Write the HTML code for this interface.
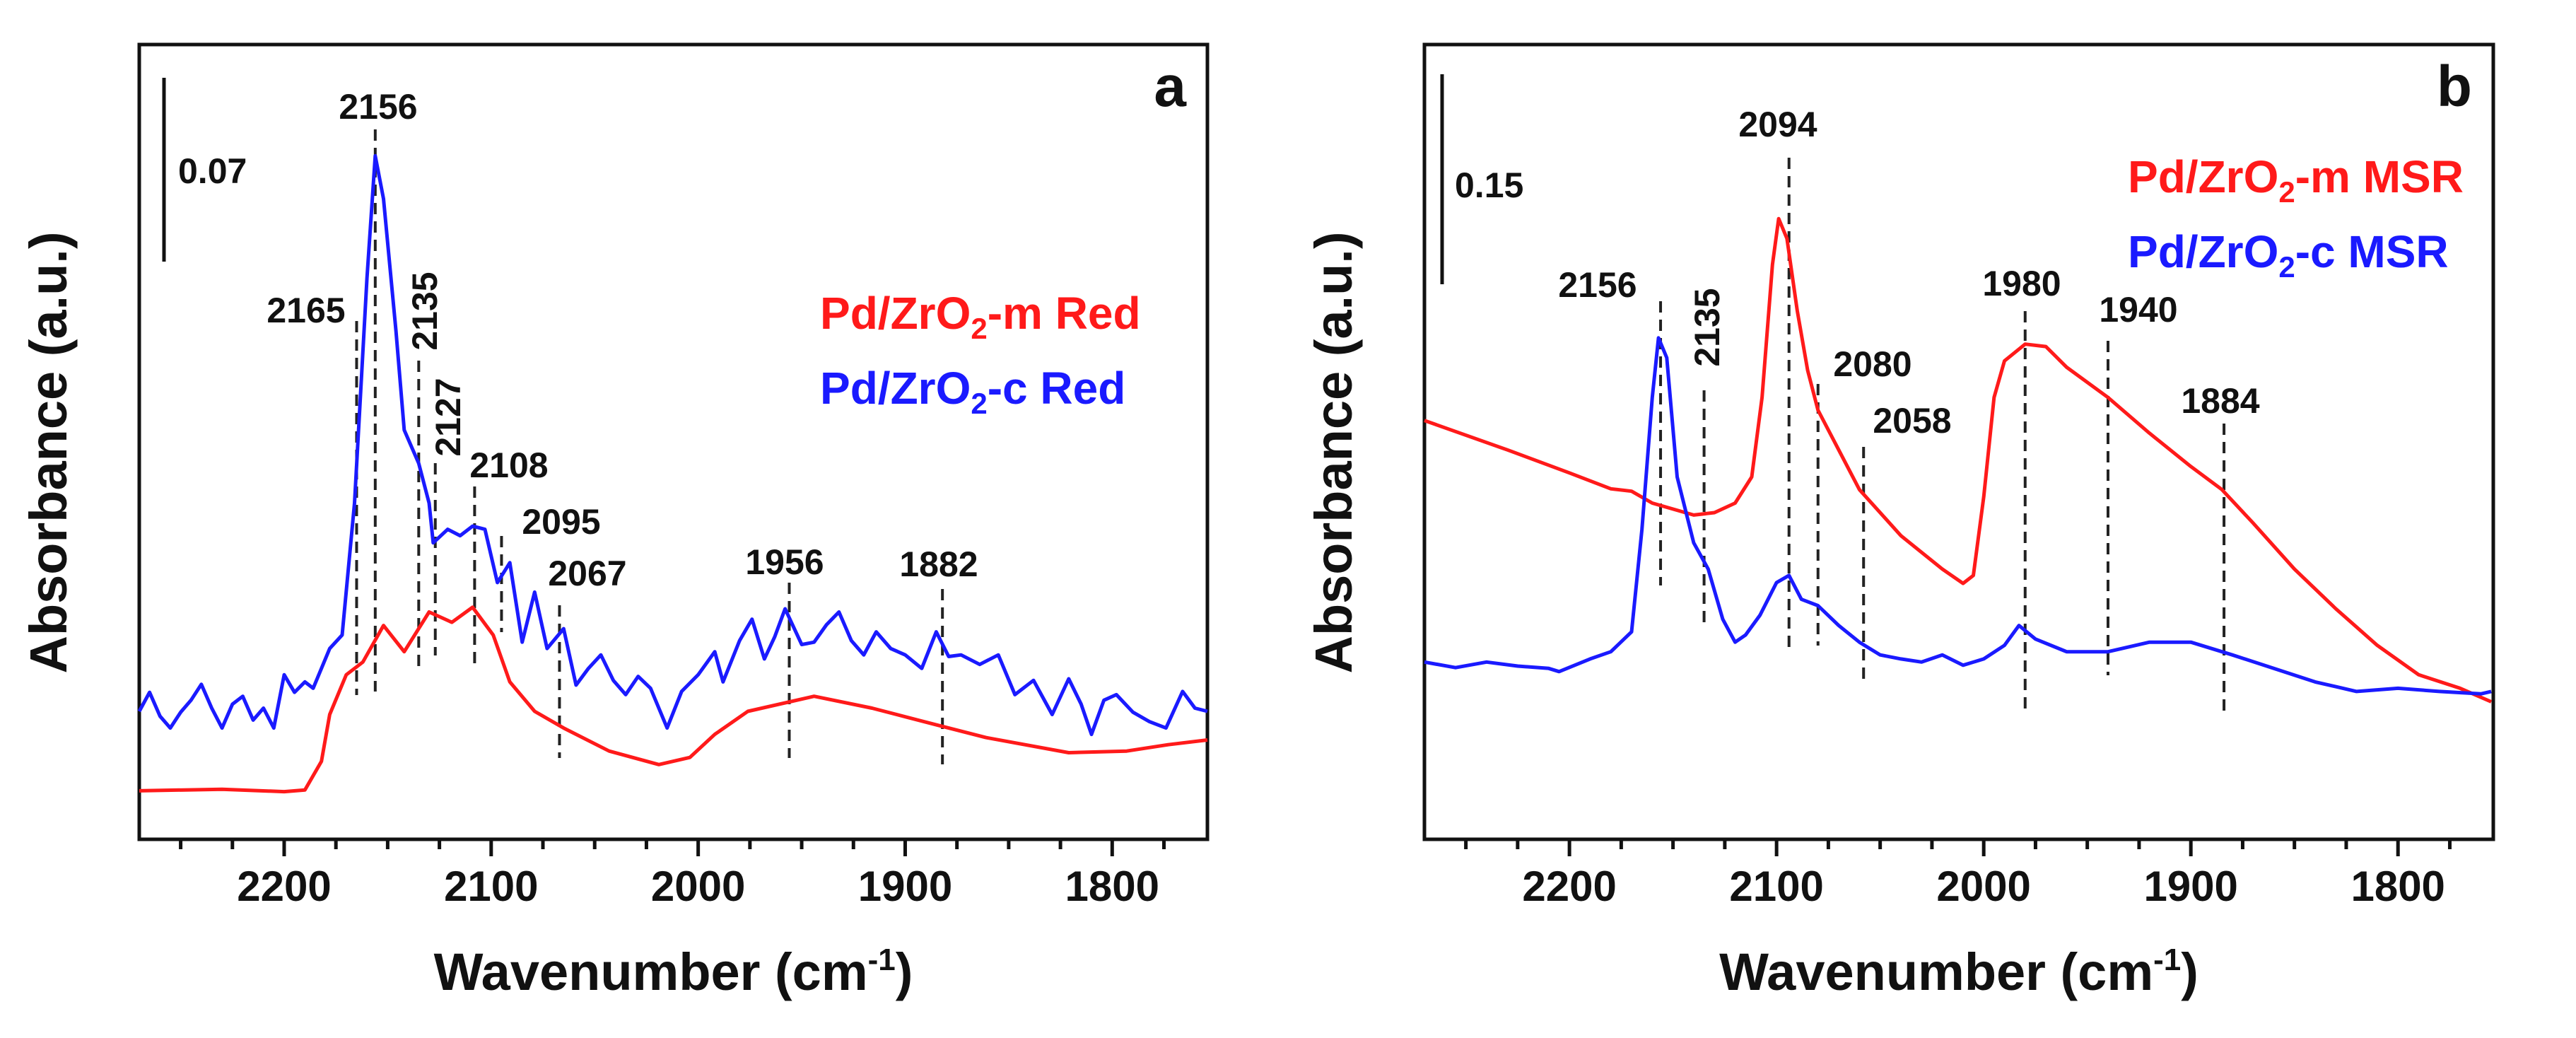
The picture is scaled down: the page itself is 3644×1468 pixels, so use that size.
<!DOCTYPE html>
<html><head><meta charset="utf-8"><style>
body{margin:0;background:#fff}
svg{display:block}
text{font-family:"Liberation Sans",Arial,sans-serif;font-weight:bold}
</style></head><body>
<svg id="fig" width="3644" height="1468" viewBox="0 0 3644 1468" xmlns="http://www.w3.org/2000/svg"></svg>
<script>
// ---- data ----
const xTicks=[2200,2100,2000,1900,1800];
const aRedX=[2270,2230,2200,2190,2182,2178,2170,2162,2152,2142,2130,2119,2109,2099,2091,2079,2065,2043,2019,2004,1992,1976,1944,1916,1885,1861,1821,1793,1773,1754];
const aRedY=[6.1,6.3,6.0,6.2,9.8,15.7,20.7,22.3,26.9,23.6,28.6,27.3,29.2,25.7,19.8,16.1,14.0,11.1,9.4,10.3,13.2,16.1,18.0,16.5,14.4,12.8,10.9,11.1,11.9,12.5];
const aBlueX=[2270,2265,2260,2255,2250,2245,2240,2235,2230,2225,2220,2215,2210,2205,2200,2195,2190,2186,2178,2172,2166,2160,2156,2152,2146,2142,2135,2130,2128,2121,2115,2109,2103,2097,2091,2085,2079,2073,2065,2059,2053,2047,2041,2035,2029,2023,2015,2008,2000,1992,1988,1980,1974,1968,1963,1958,1950,1944,1938,1932,1926,1920,1914,1907,1900,1892,1885,1879,1873,1864,1855,1847,1838,1829,1821,1815,1810,1804,1798,1790,1782,1774,1766,1760,1754];
const aBlueY=[16.1,18.5,15.5,14.0,16.0,17.5,19.5,16.5,14.0,17.0,18.0,15.0,16.5,14.0,20.7,18.5,19.8,19.0,24.0,25.7,42.3,70.6,86.0,80.6,64.0,51.5,47.3,42.3,37.3,39.0,38.2,39.4,39.0,32.3,34.8,24.8,31.1,24.0,26.5,19.4,21.5,23.2,20.0,18.2,20.5,19.0,14.0,18.6,20.7,23.6,19.8,25.0,27.7,22.7,25.5,29.0,24.5,24.8,27.0,28.6,25.0,23.2,26.1,24.0,23.2,21.5,26.1,23.0,23.2,22.0,23.2,18.2,20.0,15.7,20.2,17.0,13.2,17.5,18.2,16.0,14.8,14.0,18.6,16.5,16.1];
const bRedX=[2270,2230,2200,2180,2170,2160,2140,2130,2120,2112,2107,2102,2099,2095,2090,2085,2080,2070,2060,2040,2020,2010,2005,2000,1995,1990,1980,1970,1960,1940,1920,1900,1885,1870,1850,1830,1810,1790,1770,1755];
const bRedY=[52.7,49.0,46.1,44.1,43.8,42.3,40.8,41.1,42.3,45.6,55.6,72.3,78.1,75.6,66.5,59.0,54.0,49.0,44.0,38.2,34.0,32.2,33.2,43.1,55.6,60.2,62.3,62.0,59.4,55.6,51.1,46.9,44.0,39.8,34.0,29.0,24.4,20.7,19.0,17.3];
const bBlueX=[2270,2255,2240,2225,2210,2205,2190,2180,2170,2165,2160,2157,2153,2148,2140,2133,2126,2120,2115,2108,2100,2094,2088,2080,2070,2060,2050,2040,2030,2020,2010,2000,1990,1983,1975,1960,1940,1920,1900,1880,1860,1840,1820,1800,1780,1760,1755];
const bBlueY=[22.3,21.6,22.3,21.8,21.5,21.1,22.7,23.6,26.1,39.0,55.6,63.1,60.6,45.6,37.3,34.0,27.7,24.8,25.7,28.2,32.3,33.2,30.2,29.4,26.9,24.8,23.2,22.7,22.3,23.2,21.9,22.7,24.4,26.9,25.2,23.6,23.6,24.8,24.8,23.2,21.5,19.8,18.6,19.0,18.6,18.3,18.6];
const aMarks=[2165,2156,2135,2127,2108,2095,2067,1956,1882];
const bMarks=[2156,2135,2094,2080,2058,1980,1940,1884];
// ---- layout ----
const NS="http://www.w3.org/2000/svg";
const svg=document.getElementById('fig');
const T=63,B=1187;
function mk(tag,attrs,parent,txt){const e=document.createElementNS(NS,tag);for(const k in attrs)e.setAttribute(k,attrs[k]);if(txt!==undefined)e.textContent=txt;(parent||svg).appendChild(e);return e;}
function yS(v){return B-(v/100)*(B-T);}
function panel(L,R,letter,series,marks,markLines,markLabels,scale,legend){
  const g=mk('g',{});
  
  
  const xS=w=>L+(2270-w)*(R-L)/(2270-1754);
  const frame=mk('rect',{x:L,y:T,width:R-L,height:B-T,fill:'none',stroke:'#111','stroke-width':5},g);
  
  
  for(let w=2250;w>=1775;w-=25){
    const maj=xTicks.includes(w);
    const t=mk('line',{x1:xS(w),x2:xS(w),y1:B,y2:B+(maj?24:14),stroke:'#111','stroke-width':5},g);
    
    
  }
  xTicks.forEach(w=>{const t=mk('text',{x:xS(w),y:1274,'text-anchor':'middle','font-size':60,fill:'#111'},g,String(w));
    
    });
  const xt=mk('text',{x:(L+R)/2,y:1400,'text-anchor':'middle','font-size':74,fill:'#111'},g);
  
  
  xt.innerHTML='Wavenumber (cm<tspan dy="-28" font-size="44">-1</tspan><tspan dy="28">)</tspan>';
  const yt=mk('text',{x:0,y:0,'text-anchor':'middle','font-size':74,fill:'#111',transform:`translate(${L-103},640) rotate(-90)`},g,'Absorbance (a.u.)');
  
  
  // marker lines
  marks.forEach((m,i)=>{const l=mk('line',{x1:xS(m),x2:xS(m),y1:markLines[i][0],y2:markLines[i][1],stroke:'#222','stroke-width':4,'stroke-dasharray':'16 10'},g);
    
    
    const p=markLabels[i];
    const tx=mk('text',{x:p[0],y:p[1],'text-anchor':'middle','font-size':50,fill:'#111'},g,String(m));
    if(p[2])tx.setAttribute('transform',`rotate(-90 ${p[0]} ${p[1]})`);
    
    });
  series.forEach(s=>{const d=s.x.map((w,i)=>(i?'L':'M')+xS(w).toFixed(1)+' '+yS(s.y[i]).toFixed(1)).join(' ');
    const p=mk('path',{d:d,fill:'none',stroke:s.c,'stroke-width':5,'stroke-linejoin':'round'},g);
    
    });
  const sb=mk('line',{x1:scale[0],x2:scale[0],y1:scale[1],y2:scale[2],stroke:'#111','stroke-width':5},g);
  
  
  const st=mk('text',{x:scale[3],y:scale[4],'font-size':50,fill:'#111'},g,scale[5]);
  
  
  const lt=mk('text',{x:R-30,y:150,'text-anchor':'end','font-size':82,fill:'#111'},g,letter);
  
  
  legend.forEach(e=>{const t=mk('text',{x:e[0],y:e[1],'font-size':64,fill:e[2]},g);
    t.innerHTML='Pd/ZrO<tspan dy="14" font-size="42">2</tspan><tspan dy="-14">'+e[3]+'</tspan>';
    
    });
}
panel(197,1708,'a',
 [{x:aRedX,y:aRedY,c:'#ff1a1a',n:'series-pd-zro2-m-red'},{x:aBlueX,y:aBlueY,c:'#1a1aff',n:'series-pd-zro2-c-red'}],
 aMarks,[[454,983],[183,978],[510,950],[655,927],[688,941],[758,894],[856,1072],[824,1072],[833,1081]],
 [[433,456],[535,168],[618,440,1],[651,590,1],[720,675],[794,755],[831,828],[1110,812],[1328,815]],
 [232,110,370,252,259,'0.07'],
 [[1160,465,'#ff1a1a','-m Red'],[1160,571,'#1a1aff','-c Red']]);
panel(2015,3527,'b',
 [{x:bRedX,y:bRedY,c:'#ff1a1a',n:'series-pd-zro2-m-msr'},{x:bBlueX,y:bBlueY,c:'#1a1aff',n:'series-pd-zro2-c-msr'}],
 bMarks,[[426,828],[552,885],[223,922],[543,913],[632,960],[440,1002],[482,955],[599,1006]],
 [[2260,420],[2432,463,1],[2515,193],[2649,532],[2705,612],[2860,418],[3025,455],[3141,584]],
 [2040,105,402,2058,279,'0.15'],
 [[3010,272,'#ff1a1a','-m MSR'],[3010,378,'#1a1aff','-c MSR']]);
</script>
</body></html>
